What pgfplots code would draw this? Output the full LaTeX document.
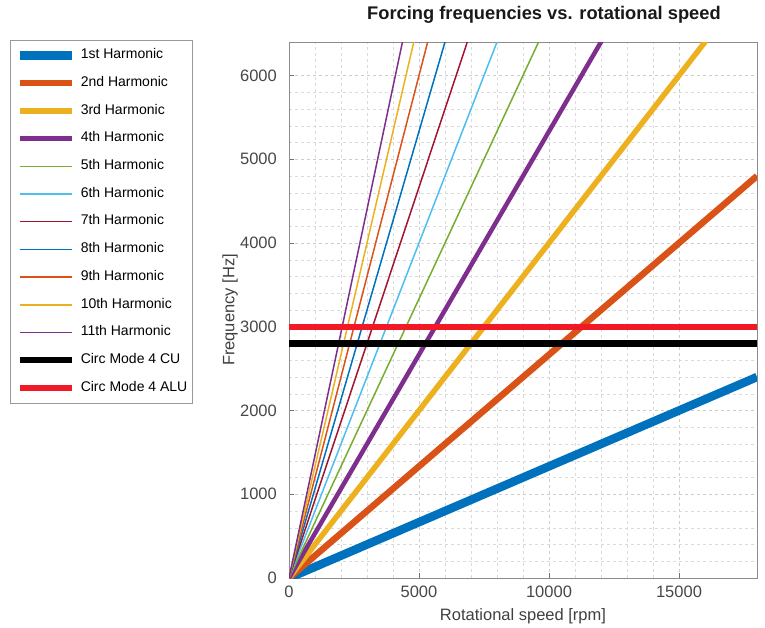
\documentclass[border=0pt]{standalone}
\usepackage{pgfplots}
\pgfplotsset{compat=1.18}
\usepackage{fontspec}
\setmainfont{Liberation Sans}
\definecolor{c1}{rgb}{0,0.447,0.741}
\definecolor{c2}{rgb}{0.85,0.325,0.098}
\definecolor{c3}{rgb}{0.929,0.694,0.125}
\definecolor{c4}{rgb}{0.494,0.184,0.556}
\definecolor{c5}{rgb}{0.466,0.674,0.188}
\definecolor{c6}{rgb}{0.301,0.745,0.933}
\definecolor{c7}{rgb}{0.635,0.078,0.184}
\definecolor{cred}{rgb}{0.95,0.1,0.15}
\begin{document}
\begin{tikzpicture}[x=1pt,y=1pt]
\useasboundingbox (0,0) rectangle (765,-627);
\begin{axis}[
  at={(289pt,-578pt)}, anchor=south west, scale only axis,
  width=468pt, height=536pt,
  xmin=0, xmax=18000, ymin=0, ymax=6400,
  xtick={0,5000,10000,15000}, ytick={0,1000,...,6000},
  minor x tick num=4, minor y tick num=4,
  scaled x ticks=false, scaled y ticks=false,
  /pgf/number format/.cd, 1000 sep={}, assume math mode=true, /pgfplots/.cd,
  grid=both,
  major grid style={dashed, black!20},
  minor grid style={dashed, black!14},
  axis line style={black!45},
  tick style={black!55},
  tick align=inside, xtick pos=left, ytick pos=left,
  major tick length=5pt, minor tick length=0pt,
  ticklabel style={font=\fontsize{16.5}{19}\selectfont, text=black!72},
  xticklabel style={anchor=base, yshift=-19pt},
  yticklabel style={anchor=east, inner sep=0pt, xshift=-12pt},
  xlabel={Rotational speed [rpm]},
  ylabel={Frequency [Hz]},
  label style={font=\fontsize{16.5}{20}\selectfont, text=black!75},
  xlabel style={at={(axis description cs:0.5,0)}, anchor=base, yshift=-42pt},
  ylabel style={at={(axis description cs:0,0.5)}, anchor=center, yshift=59pt},
  title={Forcing frequencies vs. rotational speed},
  title style={font=\bfseries\fontsize{18.3}{22}\selectfont, at={(axis description cs:0.5,1)}, anchor=base, yshift=17pt, xshift=21pt, text=black!90},
  legend style={at={(-0.596,1.0037)}, anchor=north west, draw=black!40, fill=white,
    font=\fontsize{14}{16}\selectfont, inner xsep=5pt, inner ysep=8.5pt,
    row sep=14.2pt, column sep=5pt,
    nodes={inner sep=0pt, text height=10pt, text depth=3.5pt, anchor=west}},
  legend cell align=left,
  legend image code/.code={\draw[#1] (0pt,0pt) -- (52pt,0pt);},
]
\addplot[c1, line width=8.5pt] coordinates {(0,0) (18000,2400)};
\addplot[c2, line width=6.5pt] coordinates {(0,0) (18000,4800)};
\addplot[c3, line width=5.5pt] coordinates {(0,0) (18000,7200)};
\addplot[c4, line width=4.5pt] coordinates {(0,0) (18000,9600)};
\addplot[c5, line width=1.5pt] coordinates {(0,0) (18000,12000)};
\addplot[c6, line width=1.5pt] coordinates {(0,0) (18000,14400)};
\addplot[c7, line width=1.5pt] coordinates {(0,0) (18000,16800)};
\addplot[c1, line width=1.5pt] coordinates {(0,0) (18000,19200)};
\addplot[c2, line width=1.5pt] coordinates {(0,0) (18000,21600)};
\addplot[c3, line width=1.5pt] coordinates {(0,0) (18000,24000)};
\addplot[c4, line width=1.5pt] coordinates {(0,0) (18000,26400)};
\addplot[black, line width=6.5pt] coordinates {(0,2800) (18000,2800)};
\addplot[cred, line width=6.5pt] coordinates {(0,3000) (18000,3000)};
\legend{1st Harmonic,2nd Harmonic,3rd Harmonic,4th Harmonic,5th Harmonic,6th Harmonic,7th Harmonic,8th Harmonic,9th Harmonic,10th Harmonic,11th Harmonic,Circ Mode 4 CU,Circ Mode 4 ALU}
\end{axis}
\end{tikzpicture}
\end{document}
